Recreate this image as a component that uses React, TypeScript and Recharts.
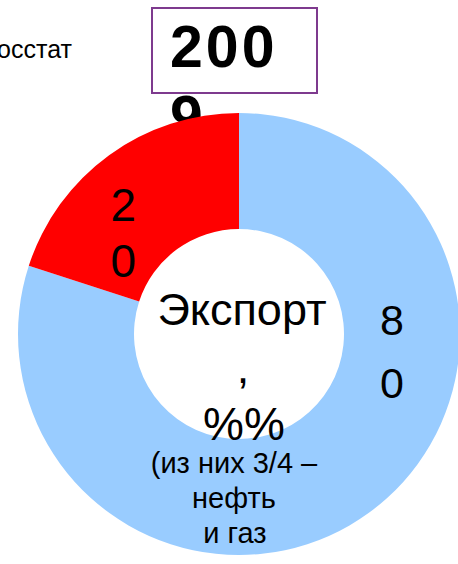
import React from "react";
import { PieChart, Pie, Cell } from "recharts";

const categories = ["Прочее", "Экспорт"];
const values = [80, 20];
const sliceNames = ["Экспорт (прочее)", "Экспорт"];
const yearText = ["200", "9"];
const sourceText = "Росстат";
const centerTitle = ["Экспорт", ",", "%%"];
const centerNote = ["(из них 3/4 –", "нефть", "и газ"];

const COLORS = ["#99CCFF", "#FF0000"];
const FONT = "'Liberation Sans', Arial, sans-serif";

// label placement style per slice: polar angle (deg), radius, font size, line spacing
const LABEL_STYLE = [
  { angle: -6.5, radius: 154, fontSize: 43, line: 63 },
  { angle: 138.7, radius: 154, fontSize: 46, line: 56 },
];

const data = categories.map((c, i) => ({ name: sliceNames[i] || c, value: values[i] }));

const CX = 239;
const CY = 334;

const renderLabel = (props: any) => {
  const { cx, cy, index, value } = props;
  const st = LABEL_STYLE[index];
  const rad = (st.angle * Math.PI) / 180;
  const x = cx + st.radius * Math.cos(rad);
  const yc = cy - st.radius * Math.sin(rad);
  const digits = String(value).split("");
  const cap = st.fontSize * 0.716;
  const total = (digits.length - 1) * st.line;
  return (
    <text
      key={`lbl-${index}`}
      x={x}
      textAnchor="middle"
      fontFamily={FONT}
      fontSize={st.fontSize}
      fill="#000"
    >
      {digits.map((d, i) => (
        <tspan key={i} x={x} y={yc - total / 2 + i * st.line + cap / 2}>
          {d}
        </tspan>
      ))}
    </text>
  );
};

export default function App() {
  return (
    <div style={{ position: "absolute", left: 0, top: 0, width: 458, height: 564, background: "#fff", overflow: "hidden" }}>
      <svg width={458} height={564} style={{ position: "absolute", left: 0, top: 0 }}>
        <text x={72} y={58} textAnchor="end" fontFamily={FONT} fontSize={25} fill="#000">
          {sourceText}
        </text>
        <rect x={152} y={8} width={165} height={85} fill="#fff" stroke="#7E3A8E" strokeWidth={2} />
        <text fontFamily={FONT} fontSize={59} fontWeight="bold" fill="#000" letterSpacing={3}>
          <tspan x={170} y={67}>{yearText[0]}</tspan>
          <tspan x={170} y={137}>{yearText[1]}</tspan>
        </text>
      </svg>
      <div style={{ position: "absolute", left: 0, top: 0 }}>
        <PieChart width={458} height={564} margin={{ top: 0, right: 0, bottom: 0, left: 0 }}>
          <Pie
            data={data}
            dataKey="value"
            cx={CX}
            cy={CY}
            innerRadius={105}
            outerRadius={221}
            startAngle={90}
            endAngle={-270}
            stroke="none"
            isAnimationActive={false}
            label={renderLabel}
            labelLine={false}
          >
            {data.map((_, i) => (
              <Cell key={i} fill={COLORS[i]} />
            ))}
          </Pie>
        </PieChart>
      </div>
      <svg width={458} height={564} style={{ position: "absolute", left: 0, top: 0, pointerEvents: "none" }}>
        <text textAnchor="middle" fontFamily={FONT} fill="#000">
          <tspan x={242} y={325} fontSize={45}>{centerTitle[0]}</tspan>
          <tspan x={243} y={383} fontSize={45}>{centerTitle[1]}</tspan>
          <tspan x={244} y={440} fontSize={46}>{centerTitle[2]}</tspan>
        </text>
        <text textAnchor="middle" fontFamily={FONT} fill="#000" fontSize={29}>
          <tspan x={234} y={473}>{centerNote[0]}</tspan>
          <tspan x={234} y={508}>{centerNote[1]}</tspan>
          <tspan x={235} y={543}>{centerNote[2]}</tspan>
        </text>
      </svg>
    </div>
  );
}
